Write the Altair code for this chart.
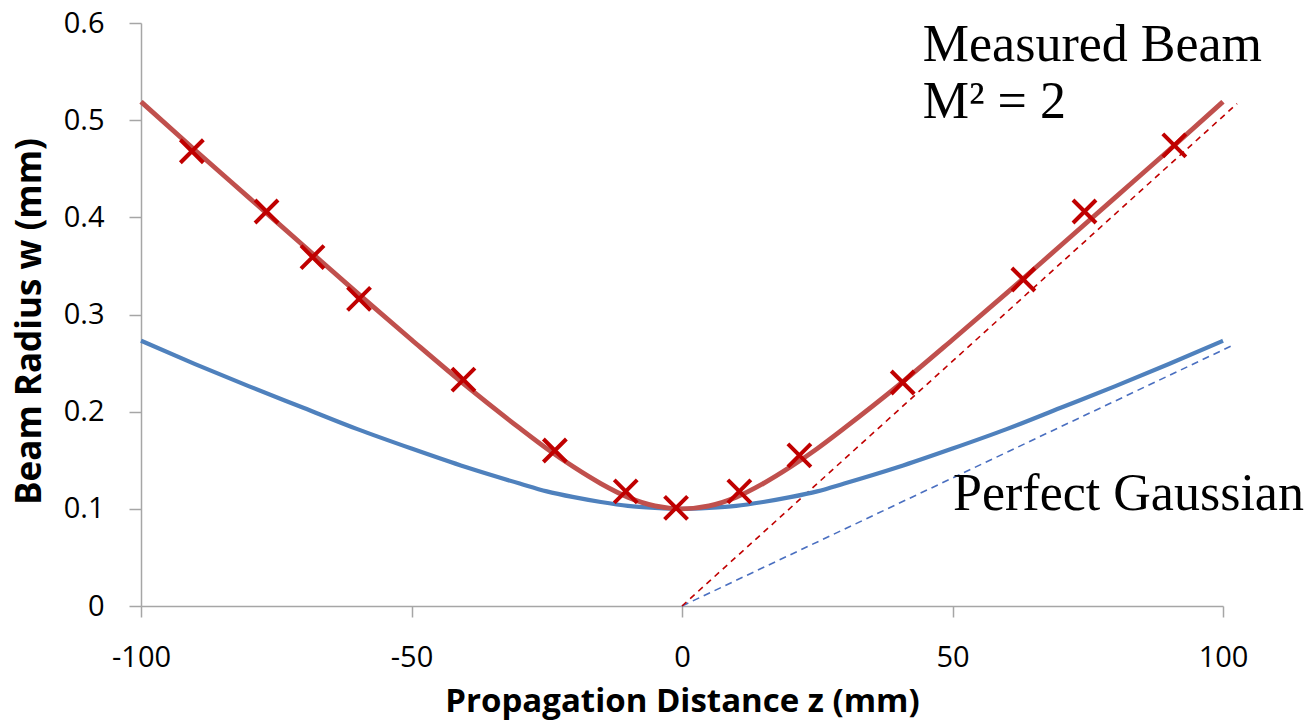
import altair as alt
import pandas as pd

# ---- data ----
z_curve = [-100, -90, -80, -70, -60, -50, -40, -30, -25, -20, -15, -10, -5, 0,
           5, 10, 15, 20, 25, 30, 40, 50, 60, 70, 80, 90, 100]
w_measured = [0.519, 0.469, 0.420, 0.371, 0.322, 0.274, 0.227, 0.183, 0.162, 0.143, 0.126, 0.112, 0.103, 0.100,
              0.103, 0.112, 0.126, 0.143, 0.162, 0.183, 0.227, 0.274, 0.322, 0.371, 0.420, 0.469, 0.519]
w_gaussian = [0.273, 0.249, 0.226, 0.204, 0.182, 0.162, 0.143, 0.126, 0.118, 0.112, 0.107, 0.103, 0.101, 0.100,
              0.101, 0.103, 0.107, 0.112, 0.118, 0.126, 0.143, 0.162, 0.182, 0.204, 0.226, 0.249, 0.273]

z_points = [-90.6, -76.8, -68.3, -59.7, -40.4, -23.5, -10.4, -1.1, 10.6, 21.7, 40.8, 63.1, 74.4, 91.0]
w_points = [0.468, 0.406, 0.359, 0.316, 0.233, 0.160, 0.118, 0.101, 0.118, 0.155, 0.230, 0.336, 0.406, 0.474]

asym_measured_z = [0, 102.6]
asym_measured_w = [0, 0.517]
asym_gaussian_z = [0, 101.7]
asym_gaussian_w = [0, 0.268]

ann_text = ["Measured Beam", "M² = 2", "Perfect Gaussian"]
ann_z = [44.5, 44.5, 50.1]
ann_w = [0.5607, 0.5025, 0.0985]

x_ticks = [-100, -50, 0, 50, 100]
y_ticks = [0, 0.1, 0.2, 0.3, 0.4, 0.5, 0.6]

# ---- tables ----
curves = pd.DataFrame({"z": z_curve, "measured": w_measured, "gaussian": w_gaussian})
points = pd.DataFrame({"z": z_points, "w": w_points})
asym_m = pd.DataFrame({"z": asym_measured_z, "w": asym_measured_w})
asym_g = pd.DataFrame({"z": asym_gaussian_z, "w": asym_gaussian_w})
ann = pd.DataFrame({"text": ann_text, "z": ann_z, "w": ann_w})

AXIS_GRAY = "#a6a6a6"
SANS = "Open Sans"

x_axis = alt.Axis(
    values=x_ticks, grid=False, domainColor=AXIS_GRAY, domainWidth=1.5,
    tickColor=AXIS_GRAY, tickWidth=1.5, tickSize=11,
    labelFont=SANS, labelFontSize=29, labelColor="#000000", labelPadding=26,
    labelExpr="'' + datum.value",
    title="Propagation Distance z (mm)", titleFont=SANS, titleFontSize=33,
    titleFontWeight="bold", titleColor="#000000", titleBaseline="alphabetic",
    titleY=105, labelFlush=False,
)
y_axis = alt.Axis(
    values=y_ticks, grid=False, domainColor=AXIS_GRAY, domainWidth=1.5,
    tickColor=AXIS_GRAY, tickWidth=1.5, tickSize=12,
    labelFont=SANS, labelFontSize=29, labelColor="#000000", labelPadding=25,
    labelExpr="datum.value == 0 ? '0' : format(datum.value, '.1f')",
    title="Beam Radius w (mm)", titleFont=SANS, titleFontSize=35,
    titleFontWeight="bold", titleColor="#000000", titleBaseline="alphabetic",
    titleAngle=-90, titleX=-101, titleY=298, titleAnchor="middle", labelFlush=False,
)

xs = alt.Scale(domain=[-100, 100], nice=False, zero=False)
ys = alt.Scale(domain=[0, 0.6], nice=False)

base = alt.Chart(curves)

gauss_dash = alt.Chart(asym_g).mark_line(
    color="#4a6fc0", strokeWidth=1.6, strokeDash=[7, 5], clip=False
).encode(x=alt.X("z:Q", scale=xs, axis=x_axis), y=alt.Y("w:Q", scale=ys, axis=y_axis))

meas_dash = alt.Chart(asym_m).mark_line(
    color="#c00000", strokeWidth=1.6, strokeDash=[6, 5], clip=False
).encode(x=alt.X("z:Q", scale=xs, axis=x_axis), y=alt.Y("w:Q", scale=ys, axis=y_axis))

gauss_line = base.mark_line(
    color="#4f81bd", strokeWidth=4.2, interpolate="monotone"
).encode(x=alt.X("z:Q", scale=xs, axis=x_axis), y=alt.Y("gaussian:Q", scale=ys, axis=y_axis))

meas_line = base.mark_line(
    color="#c0504d", strokeWidth=4.8, interpolate="monotone"
).encode(x=alt.X("z:Q", scale=xs, axis=x_axis), y=alt.Y("measured:Q", scale=ys, axis=y_axis))

markers = alt.Chart(points).mark_point(
    shape="M-1,-1L1,1M-1,1L1,-1", filled=False, color="#c00000",
    strokeWidth=4, size=529, opacity=1
).encode(x=alt.X("z:Q", scale=xs, axis=x_axis), y=alt.Y("w:Q", scale=ys, axis=y_axis))

labels = alt.Chart(ann).mark_text(
    font="Liberation Serif", fontSize=52, align="left", baseline="alphabetic", color="#000000"
).encode(x=alt.X("z:Q", scale=xs, axis=x_axis), y=alt.Y("w:Q", scale=ys, axis=y_axis), text="text:N")

chart = alt.layer(gauss_dash, meas_dash, gauss_line, meas_line, markers, labels).properties(
    width=1082, height=583,
    autosize=alt.AutoSizeParams(type="none"),
    padding={"left": 133, "top": 15, "right": 82, "bottom": 118},
    background="white",
).configure_view(stroke=None)

chart.save("out.html", embed_options={"renderer": "svg", "actions": False})
